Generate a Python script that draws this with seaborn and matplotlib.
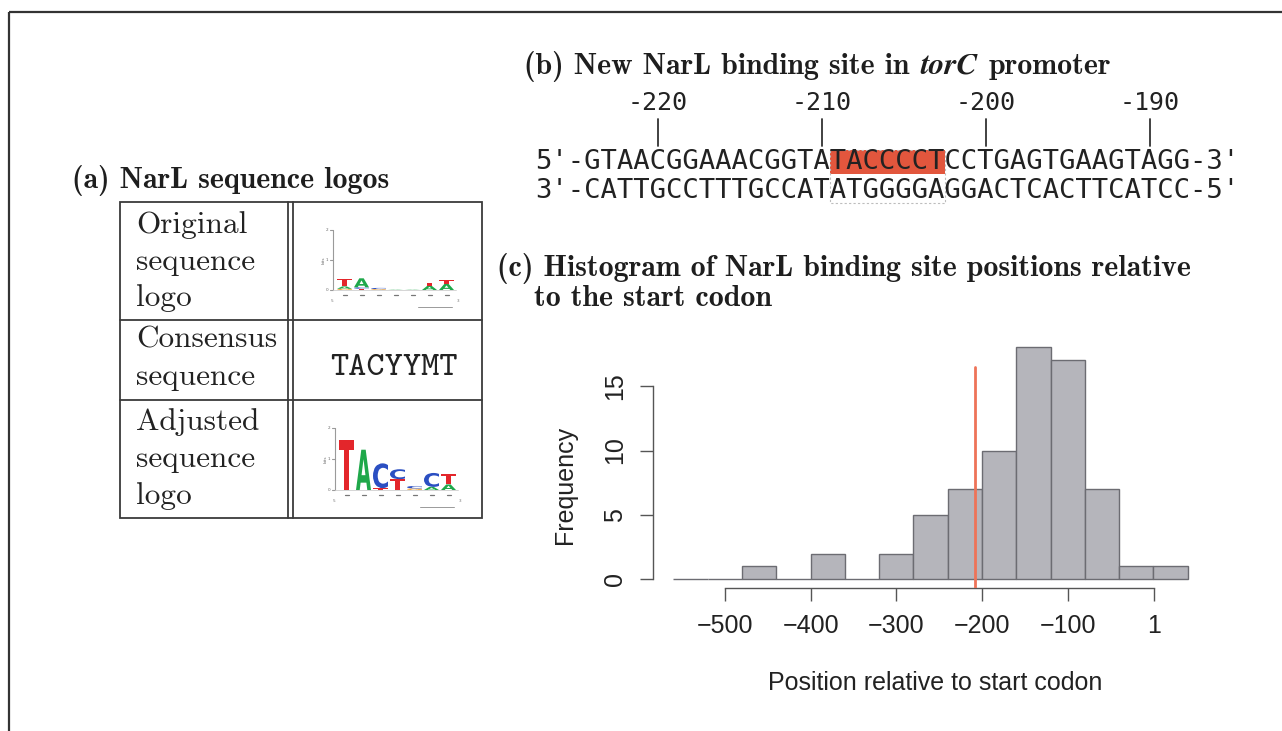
import matplotlib
matplotlib.use("Agg")
import matplotlib.pyplot as plt
import seaborn as sns
import pandas as pd
from matplotlib.textpath import TextPath
from matplotlib.font_manager import FontProperties
from matplotlib.patches import PathPatch, Rectangle
from matplotlib.transforms import Affine2D

# ---------------------------------------------------------------- data
# histogram of NarL site positions (bin edges and counts)
bin_edges = [-560, -520, -480, -440, -400, -360, -320, -280, -240, -200,
             -160, -120, -80, -40, 0, 40]
bin_counts = [0, 0, 1, 0, 2, 0, 2, 5, 7, 10, 18, 17, 7, 1, 1]
x_ticks = [-500, -400, -300, -200, -100, 1]
y_ticks = [0, 5, 10, 15]
torc_site = -208

# torC promoter sequence
strand_top = "5'-GTAACGGAAACGGTATACCCCTCCTGAGTGAAGTAGG-3'"
strand_bottom = "3'-CATTGCCTTTGCCATATGGGGAGGACTCACTTCATCC-5'"
first_base_pos = -224
ruler_marks = [-220, -210, -200, -190]
site_start = -209
site_length = 7

# table of logos
row_labels = [["Original", "sequence", "logo"],
              ["Consensus", "sequence"],
              ["Adjusted", "sequence", "logo"]]
consensus = "TACYYMT"
# letter stacks per position, bottom to top: (base, bits)
logo_original = [[("G", 0.04), ("A", 0.08), ("T", 0.26)],
                 [("T", 0.04), ("C", 0.05), ("A", 0.30)],
                 [("G", 0.03), ("C", 0.04)],
                 [("A", 0.01)],
                 [("A", 0.01)],
                 [("A", 0.14), ("T", 0.10)],
                 [("A", 0.20), ("T", 0.12)]]
logo_adjusted = [[("T", 1.60)],
                 [("A", 1.30)],
                 [("T", 0.06), ("C", 0.80)],
                 [("T", 0.35), ("C", 0.32)],
                 [("G", 0.05), ("C", 0.08)],
                 [("A", 0.10), ("C", 0.45)],
                 [("A", 0.18), ("T", 0.35)]]
base_colors = {"A": "#1fa84a", "C": "#2b4fc2", "G": "#f3a12c", "T": "#e3262b"}

# ---------------------------------------------------------------- style
sns.set_style("white")
W, H, DPI = 1282, 731, 100

fig = plt.figure(figsize=(W / DPI, H / DPI), dpi=DPI)
renderer = fig.canvas.get_renderer()
ax0 = fig.add_axes([0, 0, 1, 1])
ax0.set_xlim(0, W)
ax0.set_ylim(H, 0)
ax0.axis("off")

# outer frame
ax0.plot([9, W], [12, 12], color="#333333", lw=1.6, solid_capstyle="butt")
ax0.plot([9, 9], [12, H], color="#333333", lw=1.6, solid_capstyle="butt")

TITLE_SIZE = 21.5
title_font = dict(family="cmb10", fontsize=TITLE_SIZE, color="#1e1e1e")

# ---------------------------------------------------------------- (a)
ax0.text(72, 180, "(a) NarL sequence logos", ha="left", va="center", **title_font)

tl, tr_, tt, tb = 120, 482, 202, 518
lc = dict(color="#3a3a3a", lw=1.3)
ax0.add_patch(Rectangle((tl, tt), tr_ - tl, tb - tt, fill=False,
                        edgecolor="#3a3a3a", lw=1.3))
for xv in (288, 293):
    ax0.plot([xv, xv], [tt, tb], **lc)
for yv in (320, 400):
    ax0.plot([tl, tr_], [yv, yv], **lc)

baselines = [[233, 270, 306], [348, 385], [430, 467, 504]]
for lines, bls in zip(row_labels, baselines):
    for word, yb in zip(lines, bls):
        ax0.text(136, yb, word, family="cmr10", fontsize=22.5,
                 color="#222222", ha="left", va="baseline")

ax0.text(330, 375, consensus, family="cmtt10", fontsize=25,
         color="#222222", ha="left", va="baseline")

glyph_font = FontProperties(family="DejaVu Sans", weight="bold")


def draw_glyph(ch, x, y_base, w, h, color):
    if h <= 0.3:
        h = 0.3
    tp = TextPath((0, 0), ch, size=1, prop=glyph_font)
    ext = tp.get_extents()
    tf = (Affine2D().translate(-ext.x0, -ext.y0)
          .scale(w / ext.width, -h / ext.height)
          .translate(x, y_base))
    ax0.add_patch(PathPatch(tf.transform_path(tp), facecolor=color,
                            edgecolor="none", lw=0))


def draw_logo(columns, x_axis, y_base, px_bit, step=17, width=15):
    axc = "#9a9a9a"
    ax0.plot([x_axis, x_axis], [y_base, y_base - 2 * px_bit], color=axc, lw=0.8)
    for b in (0, 1, 2):
        yy = y_base - b * px_bit
        ax0.plot([x_axis - 3, x_axis], [yy, yy], color=axc, lw=0.8)
        ax0.text(x_axis - 5, yy, str(b), fontsize=3, color="#666666",
                 ha="right", va="center")
    ax0.text(x_axis - 9, y_base - px_bit, "bits", fontsize=3, color="#666666",
             rotation=90, ha="center", va="center")
    ax0.plot([x_axis, x_axis + 4 + len(columns) * step], [y_base, y_base],
             color="#cfcfcf", lw=0.6)
    for i, stack in enumerate(columns):
        xl = x_axis + 4 + i * step
        y = y_base
        for base, bits in stack:
            h = bits * px_bit
            draw_glyph(base, xl, y, width, h, base_colors[base])
            y -= max(h, 0.3)
        ax0.plot([xl + width / 2 - 2, xl + width / 2 + 2], [y_base + 5, y_base + 5],
                 color="#777777", lw=0.9)
    xe = x_axis + 4 + len(columns) * step
    ax0.text(x_axis - 1, y_base + 11, "5", fontsize=3, color="#777777",
             ha="center", va="center")
    ax0.text(xe + 2, y_base + 11, "3", fontsize=3, color="#777777",
             ha="center", va="center")
    ax0.plot([xe - 38, xe - 4], [y_base + 17, y_base + 17], color="#9a9a9a", lw=0.7)


draw_logo(logo_original, 333, 290, 30)
draw_logo(logo_adjusted, 335, 490, 31)

# ---------------------------------------------------------------- (b)
space_px = 0.36 * TITLE_SIZE * DPI / 72.0
pieces = [("(b) New NarL binding site in", title_font),
          ("torC", dict(family="STIXGeneral", style="italic", weight="bold",
                        fontsize=TITLE_SIZE + 1, color="#1e1e1e")),
          ("promoter", title_font)]
xcur = 524
for txt, fnt in pieces:
    t = ax0.text(xcur, 66, txt, ha="left", va="center", **fnt)
    bb = t.get_window_extent(renderer)
    xcur = bb.x1 + space_px

seq_size = 19.6
step = 0.60205 * seq_size * DPI / 72.0
x0 = 535
row1_y, row2_y = 162, 191


def col_of(pos):
    return 3 + (pos - first_base_pos)


c0 = col_of(site_start)
ax0.add_patch(Rectangle((x0 + c0 * step, row1_y - 12), site_length * step, 24,
                        facecolor="#e0472c", edgecolor="none", alpha=0.92))
ax0.add_patch(Rectangle((x0 + c0 * step, row1_y - 12), site_length * step,
                        row2_y - row1_y + 24, fill=False, edgecolor="#bdbdbd",
                        lw=0.8, linestyle=(0, (2, 2))))
ax0.text(x0, row1_y, strand_top, family="DejaVu Sans Mono", fontsize=seq_size,
         color="#222222", ha="left", va="center")
ax0.text(x0, row2_y, strand_bottom, family="DejaVu Sans Mono", fontsize=seq_size,
         color="#222222", ha="left", va="center")
for m in ruler_marks:
    xc = x0 + (col_of(m) + 0.5) * step
    ax0.plot([xc, xc], [119, 146], color="#333333", lw=1.3)
    ax0.text(xc, 103, f"{m}", family="DejaVu Sans Mono", fontsize=18,
             color="#222222", ha="center", va="center")

# ---------------------------------------------------------------- (c)
ax0.text(497, 268, "(c) Histogram of NarL binding site positions relative",
         ha="left", va="center", **title_font)
ax0.text(534, 298, "to the start codon", ha="left", va="center", **title_font)

# histogram axes, placed in pixel space
xlo, xhi, ylo, yhi = -584.0, 60.0, -0.675, 19.0
px_x = lambda v: 982 + (v + 200) * 0.857
px_y = lambda v: 579.3 - v * 12.88
left, right = px_x(xlo), px_x(xhi)
top, bottom = px_y(yhi), px_y(ylo)
axh = fig.add_axes([left / W, 1 - bottom / H, (right - left) / W, (bottom - top) / H])
axh.set_facecolor("none")

centers = [(a + b) / 2 for a, b in zip(bin_edges[:-1], bin_edges[1:])]
df = pd.DataFrame({"position": centers, "count": bin_counts})
sns.histplot(data=df, x="position", weights="count", bins=bin_edges, ax=axh,
             color="#b5b5bb", edgecolor="#6c6c72", linewidth=1.0, alpha=1.0)

axh.axvline(torc_site, ymin=0, ymax=(16.5 - ylo) / (yhi - ylo),
            color="#ee7358", lw=2.0, zorder=5)

hist_font = "Liberation Sans"
axh.set_xlim(xlo, xhi)
axh.set_ylim(ylo, yhi)
axh.set_xticks(x_ticks)
axh.set_xticklabels([str(t).replace("-", "\u2212") for t in x_ticks])
axh.set_yticks(y_ticks)
axh.set_yticklabels([str(t) for t in y_ticks])
for s in ("top", "right"):
    axh.spines[s].set_visible(False)
axh.spines["left"].set_bounds(y_ticks[0], y_ticks[-1])
axh.spines["bottom"].set_bounds(x_ticks[0], x_ticks[-1])
for s in ("left", "bottom"):
    axh.spines[s].set_color("#555555")
    axh.spines[s].set_linewidth(1.0)
axh.tick_params(axis="both", direction="out", length=9.5, width=1.0,
                color="#555555", labelsize=18, labelcolor="#222222", pad=9)
axh.tick_params(axis="x", bottom=True)
axh.tick_params(axis="y", left=True)
for lab in axh.get_yticklabels():
    lab.set_rotation(90)
    lab.set_va("center")
    lab.set_family(hist_font)
for lab in axh.get_xticklabels():
    lab.set_family(hist_font)
axh.set_xlabel("")
axh.set_ylabel("")
ax0.text(935, 683, "Position relative to start codon", family=hist_font,
         fontsize=18, color="#222222", ha="center", va="center")
ax0.text(565, 485, "Frequency", family=hist_font, fontsize=18,
         color="#222222", ha="center", va="center", rotation=90)

fig.savefig("out.png", dpi=DPI)
